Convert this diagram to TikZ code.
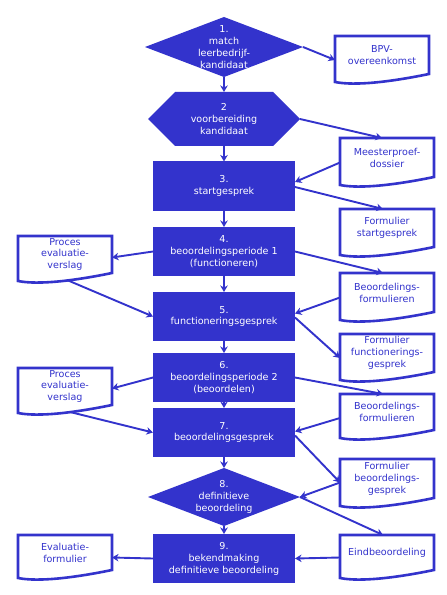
\documentclass[tikz,border=0pt]{standalone}
\usepackage{fontspec}
\setmainfont{DejaVu Sans}
\usetikzlibrary{shapes.geometric,shapes.symbols,arrows.meta,calc}
\definecolor{blu}{RGB}{51,51,204}
\newcommand\docoutline[1]{%
  \draw[docline] (#1.north west) -- (#1.north east) -- (#1.south east)
    .. controls ($(#1.south west)+(55,8)$) and ($(#1.south west)+(20,12)$) .. ($(#1.south west)+(0,8)$) -- cycle;}
\begin{document}
\begin{tikzpicture}[x=1bp,y=-1bp,
  every node/.style={font=\fontsize{9.6}{12}\selectfont, align=center, inner sep=0pt, outer sep=0pt},
  box/.style={rectangle, fill=blu, text=white, minimum width=142bp, minimum height=49bp},
  dia/.style={diamond, fill=blu},
  hexa/.style={signal, signal to=east and west, signal pointer angle=90, fill=blu, minimum width=152bp, minimum height=54bp},
  wtext/.style={text=white},
  doc/.style={rectangle, text=blu, minimum width=94bp},
  conn/.style={blu, line width=1.9bp, -{Stealth[length=6.5bp,width=7.5bp,inset=2bp]}},
  docline/.style={blu, line width=2.6bp, line join=miter}
]
\fill[white] (0,0) rectangle (447,595);
\useasboundingbox (0,0) rectangle (447,595);

% main column
\node[dia, minimum width=158bp, minimum height=60bp] (n1) at (224,47) {};
\node[wtext] (t1) at (n1) {1.\\match\\leerbedrijf-\\kandidaat};
\node[hexa] (n2) at (224,119) {};
\node[wtext] (t2) at (n2) {2\\voorbereiding\\kandidaat};
\node[box] (b3) at (224,186) {3.\\startgesprek};
\node[box] (b4) at (224,251.5) {4.\\beoordelingsperiode 1\\(functioneren)};
\node[box] (b5) at (224,316.5) {5.\\functioneringsgesprek};
\node[box] (b6) at (224,377.5) {6.\\beoordelingsperiode 2\\(beoordelen)};
\node[box] (b7) at (224,432.5) {7.\\beoordelingsgesprek};
\node[dia, minimum width=152bp, minimum height=58bp] (n8) at (224,497) {};
\node[wtext] (t8) at (n8) {8.\\definitieve\\beoordeling};
\node[box] (b9) at (224,558.5) {9.\\bekendmaking\\definitieve beoordeling};

% documents right
\node[doc, minimum height=38bp] (bpv) at (382,55) {BPV-\\overeenkomst};
\node[doc, minimum height=39bp] (mp) at (387,157.5) {Meesterproef-\\dossier};
\node[doc, minimum height=38bp] (fs) at (387,228) {Formulier\\startgesprek};
\node[doc, minimum height=39bp] (bf1) at (387,292.5) {Beoordelings-\\formulieren};
\node[doc, minimum height=38bp] (ff) at (387,353) {Formulier\\functionerings-\\gesprek};
\node[doc, minimum height=36bp] (bf2) at (387,412) {Beoordelings-\\formulieren};
\node[doc, minimum height=39bp] (fb) at (387,478.5) {Formulier\\beoordelings-\\gesprek};
\node[doc, minimum height=35bp] (eb) at (387,552.5) {Eindbeoordeling};
% documents left
\node[doc, minimum height=37bp] (p1) at (65,254.5) {Proces\\evaluatie-\\verslag};
\node[doc, minimum height=37bp] (p2) at (65,386.5) {Proces\\evaluatie-\\verslag};
\node[doc, minimum height=35bp] (ef) at (65,552.5) {Evaluatie-\\formulier};

\foreach \d in {bpv,mp,fs,bf1,ff,bf2,fb,eb,p1,p2,ef} {\docoutline{\d}}

% vertical flow
\draw[conn] (n1.south) -- (n2.north);
\draw[conn] (n2.south) -- (b3.north);
\draw[conn] (b3.south) -- (b4.north);
\draw[conn] (b4.south) -- (b5.north);
\draw[conn] (b5.south) -- (b6.north);
\draw[conn] (b6.south) -- (b7.north);
\draw[conn] (b7.south) -- (n8.north);
\draw[conn] (n8.south) -- (b9.north);

% side connectors
\draw[conn] (n1.east) -- ([yshift=-5bp]bpv.west);
\draw[conn] (n2.east) -- ([xshift=-5bp]mp.north);
\draw[conn] ([yshift=-5bp]mp.west) -- ([yshift=4bp]b3.east);
\draw[conn] ([yshift=-1bp]b3.east) -- ([xshift=-4bp]fs.north);
\draw[conn] (b4.west) -- ([yshift=-3bp]p1.east);
\draw[conn] (b4.east) -- ([xshift=-4bp]bf1.north);
\draw[conn] ($(p1.south)+(2,7)$) -- (b5.west);
\draw[conn] ([yshift=-5bp]bf1.west) -- ([yshift=3bp]b5.east);
\draw[conn] ([yshift=-1bp]b5.east) -- ([yshift=-5bp]ff.west);
\draw[conn] (b6.west) -- ([yshift=-2bp]p2.east);
\draw[conn] (b6.east) -- ([xshift=-4bp]bf2.north);
\draw[conn] ($(p2.south)+(5,7)$) -- (b7.west);
\draw[conn] ([yshift=-6bp]bf2.west) -- ([yshift=1bp]b7.east);
\draw[conn] ([yshift=-3bp]b7.east) -- ([yshift=-4bp]fb.west);
\draw[conn] ([yshift=-4bp]fb.west) -- (n8.east);
\draw[conn] (n8.east) -- ([xshift=-4bp]eb.north);
\draw[conn] ([yshift=-5bp]eb.west) -- ([yshift=0bp]b9.east);
\draw[conn] (b9.west) -- ([yshift=-5bp]ef.east);
\end{tikzpicture}
\end{document}
